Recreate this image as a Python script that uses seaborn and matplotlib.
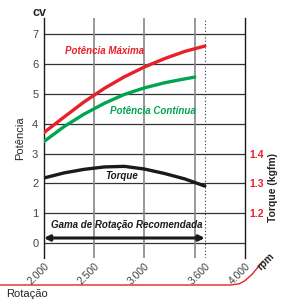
import numpy as np
import pandas as pd
import seaborn as sns
import matplotlib
matplotlib.use("Agg")
import matplotlib.pyplot as plt

# valores
rpm_max = [2000, 2200, 2400, 2600, 2800, 3000, 3200, 3400, 3600]
pot_max = [3.70, 4.22, 4.73, 5.18, 5.57, 5.90, 6.18, 6.42, 6.60]
rpm_cont = [2000, 2200, 2400, 2600, 2800, 3000, 3200, 3400, 3500]
pot_cont = [3.40, 3.90, 4.32, 4.68, 4.98, 5.20, 5.37, 5.50, 5.56]
rpm_torque = [2000, 2200, 2400, 2600, 2800, 3000, 3200, 3400, 3600]
torque = [1.318, 1.335, 1.347, 1.355, 1.357, 1.348, 1.333, 1.315, 1.291]
xticks = [2000, 2500, 3000, 3600, 4000]
xticklabels = ["2.000", "2.500", "3.000", "3.600", "4.000"]
torque_ticks = [1.2, 1.3, 1.4]

sns.set_style("white")
plt.rcParams['font.family'] = ['Liberation Sans', 'DejaVu Sans']

fig = plt.figure(figsize=(2.83, 3.0), dpi=100)
ax = fig.add_axes([0.155, 0.14, 0.711, 0.80])

df_max = pd.DataFrame({"rpm": rpm_max, "pot": pot_max})
df_cont = pd.DataFrame({"rpm": rpm_cont, "pot": pot_cont})
# torque desenhado na escala do eixo esquerdo: 1.3 kgfm <-> 2
df_tq = pd.DataFrame({"rpm": rpm_torque, "tq": (np.array(torque) - 1.1) * 10})

for y in range(0, 8):
    ax.axhline(y, color="#333333", lw=0.9, zorder=1)
for x in [2000, 2500, 3000, 3500]:
    ax.axvline(x, color="#888888", lw=1.2, zorder=1)
ax.axvline(3600, color="#333333", lw=0.8, ls=(0, (1, 2)), zorder=1)

sns.lineplot(data=df_max, x="rpm", y="pot", color="#e8202a", lw=2.4, ax=ax, zorder=3)
sns.lineplot(data=df_cont, x="rpm", y="pot", color="#00a551", lw=2.4, ax=ax, zorder=3)
sns.lineplot(data=df_tq, x="rpm", y="tq", color="#1a1a1a", lw=2.4, ax=ax, zorder=3)

ax.set_xlim(2000, 4000)
ax.set_ylim(-0.5, 7.54)
ax.set_xlabel("")
ax.set_ylabel("Potência", fontsize=8, labelpad=5)
ax.set_yticks(range(0, 8))
ax.set_yticklabels([str(i) for i in range(0, 8)], fontsize=8, color="#444444")
ax.set_xticks(xticks)
ax.set_xticklabels(xticklabels, rotation=45, ha="right", rotation_mode="anchor",
                   fontsize=7.5, color="#444444")
ax.tick_params(axis="both", length=0, pad=4)
ax.tick_params(axis="x", pad=2)

for s in ["top", "bottom"]:
    ax.spines[s].set_visible(False)
for s in ["left", "right"]:
    ax.spines[s].set_color("#1a1a1a")
    ax.spines[s].set_linewidth(1.0)

ax2 = ax.twinx()
ax2.set_ylim(1.1 + 0.1 * -0.5, 1.1 + 0.1 * 7.54)
ax2.set_yticks(torque_ticks)
ax2.set_yticklabels([f"{t:.1f}" for t in torque_ticks], fontsize=7.5,
                    color="#e8202a", fontweight="bold")
ax2.tick_params(axis="y", length=0, pad=3)
for s in ax2.spines.values():
    s.set_visible(False)
fig.text(0.965, 1 - 187 / 300, "Torque (kgfm)", fontsize=7.5, fontweight="bold",
         rotation=90, ha="center", va="center")

tstyle = dict(fontsize=7, fontweight="bold", style="italic")
ax.text(2600, 6.45, "Potência Máxima", color="#e8202a", ha="center", va="center", **tstyle)
ax.text(2660, 4.42, "Potência Contínua", color="#00a551", ha="left", va="center", **tstyle)
ax.text(2770, 2.25, "Torque", color="#1a1a1a", ha="center", va="center", **tstyle)
ax.text(2820, 0.62, "Gama de Rotação Recomendada", color="#1a1a1a", ha="center",
        va="center", **tstyle)
ax.annotate("", xy=(2000, 0.17), xytext=(3600, 0.17),
            arrowprops=dict(arrowstyle="<|-|>", color="#1a1a1a", lw=2.2,
                            mutation_scale=8, shrinkA=0, shrinkB=0), zorder=4)

fig.text(0.14, 0.955, "cv", fontsize=9, fontweight="bold", ha="center", va="center")
fig.text(0.02, 0.003, "Rotação", fontsize=8, ha="left", va="bottom")
fig.text(0.94, 0.127, "rpm", fontsize=7.5, fontweight="bold", rotation=45,
         ha="center", va="center")

# linha vermelha inferior
curve_x = np.array([0.0, 0.815, 0.845, 0.865, 0.89, 0.93])
curve_y = np.array([0.05, 0.05, 0.054, 0.064, 0.085, 0.13])
fig.add_artist(plt.Line2D(curve_x, curve_y, color="#e8202a", lw=1.0,
                          transform=fig.transFigure))

fig.savefig("out.png", dpi=100)
